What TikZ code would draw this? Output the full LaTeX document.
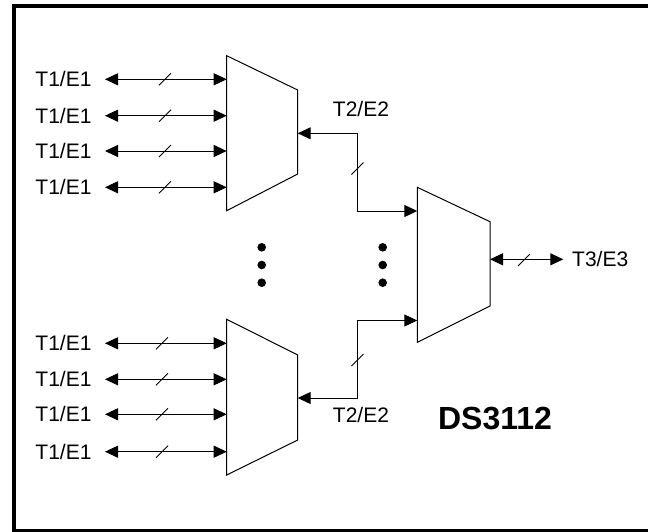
\documentclass[tikz,border=0pt]{standalone}
\usepackage{fontspec}
\setmainfont{Liberation Sans}
\usetikzlibrary{arrows.meta}
\begin{document}
\begin{tikzpicture}[x=1pt,y=-1pt,line width=1pt,
  tipone/.style={-{Triangle[length=13pt,width=12pt]}},
  bitip/.style={{Triangle[length=13pt,width=12pt]}-{Triangle[length=13pt,width=12pt]}},
  lbl/.style={font=\fontsize{21}{25}\selectfont,inner ysep=0pt},
  muxbox/.style={draw,line width=1pt,line join=miter},
  dotmark/.style={circle,fill=black,inner sep=0pt,minimum size=8.6pt},
  pics/slashmark/.style={code={\draw[-,line width=0.8pt] (-6,6) -- (6,-6);}}]
\useasboundingbox (0,0) rectangle (648,531);
\clip (0,0) rectangle (648,531);
% frame
\draw[line width=4pt] (670,6) -- (14,6) -- (14,531) -- (670,531);

% top mux
\draw[muxbox] (226.7,55.7) -- (297.7,90) -- (297.7,174) -- (226.7,210.7) -- cycle;
% bottom mux
\draw[muxbox] (226.7,319.3) -- (297.7,355) -- (297.7,440) -- (226.7,475) -- cycle;
% right mux
\draw[muxbox] (417.3,187.3) -- (490,221.7) -- (490,306) -- (417.3,342.3) -- cycle;

% ports
\coordinate (ta1) at (226.7,79.3);
\coordinate (ta2) at (226.7,115.7);
\coordinate (ta3) at (226.7,151);
\coordinate (ta4) at (226.7,187.3);
\coordinate (ba1) at (226.7,343.3);
\coordinate (ba2) at (226.7,379.3);
\coordinate (ba3) at (226.7,414.3);
\coordinate (ba4) at (226.7,451.7);
\coordinate (tout) at (297.7,133.3);
\coordinate (bout) at (297.7,398);
\coordinate (rin1) at (417.3,211);
\coordinate (rin2) at (417.3,320.5);
\coordinate (rout) at (490,259.3);
\coordinate (k1) at (357.3,133.3);
\coordinate (k2) at (357.3,320.5);

% labels T1/E1
\foreach \i/\y in {1/79.3,2/115.7,3/151,4/187.3}{
  \node[lbl,anchor=east,inner xsep=13pt] (lt\i) at (105,\y) {T1/E1};
  \draw[bitip] (lt\i.east) -- (ta\i);
  \pic at (165,\y) {slashmark};
}
\foreach \i/\y in {1/343.3,2/379.3,3/414.3,4/451.7}{
  \node[lbl,anchor=east,inner xsep=13pt] (lb\i) at (105,\y) {T1/E1};
  \draw[bitip] (lb\i.east) -- (ba\i);
  \pic at (162,\y) {slashmark};
}

% T2/E2 connectors
\draw[bitip] (tout) -- (k1) |- (rin1);
\pic at (357.5,168.5) {slashmark};
\draw[bitip] (rin2) -- (k2) |- (bout);
\pic at (357.5,360) {slashmark};
\node[lbl] (t2top) at (361,109) {T2/E2};
\node[lbl] (t2bot) at (361,415) {T2/E2};

% T3/E3
\node[lbl,anchor=west,inner xsep=8.4pt] (t3) at (563.3,259.3) {T3/E3};
\draw[bitip] (rout) -- (t3.west);
\pic at (524,260) {slashmark};

% dots
\foreach \j/\y in {1/247.3,2/265,3/282.7}{
  \node[dotmark] (dl\j) at (261.7,\y) {};
  \node[dotmark] (dr\j) at (382.7,\y) {};
}

% title
\node[font=\fontsize{32}{38}\selectfont\bfseries,inner sep=0pt] (title) at (495,418) {DS3112};
\end{tikzpicture}
\end{document}
